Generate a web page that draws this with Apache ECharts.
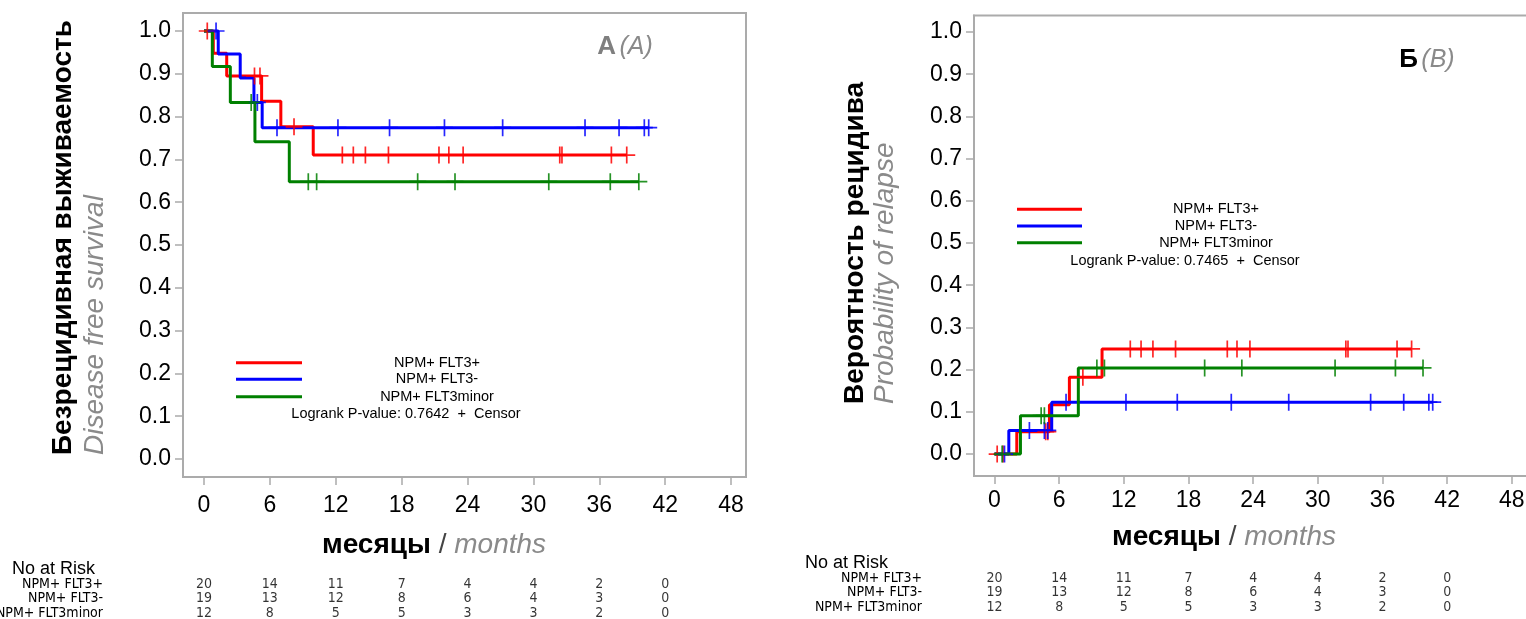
<!DOCTYPE html>
<html>
<head>
<meta charset="utf-8">
<script src="https://cdn.jsdelivr.net/npm/echarts@6/dist/echarts.min.js"></script>
<style>
html,body{margin:0;padding:0;background:#fff;}
#chart{width:1526px;height:619px;}
</style>
</head>
<body>
<div id="chart"></div>
<script>
// группы и цвета
var groups = ['NPM+ FLT3+', 'NPM+ FLT3-', 'NPM+ FLT3minor'];
var colors = ['#ff0000', '#0000ff', '#008000'];
var monthTicks = [0, 6, 12, 18, 24, 30, 36, 42, 48];
var probTicks = [0, 0.1, 0.2, 0.3, 0.4, 0.5, 0.6, 0.7, 0.8, 0.9, 1.0];

// No at Risk
var riskTimes = [0, 6, 12, 18, 24, 30, 36, 42];
var riskRed = [20, 14, 11, 7, 4, 4, 2, 0];
var riskBlue = [19, 13, 12, 8, 6, 4, 3, 0];
var riskGreen = [12, 8, 5, 5, 3, 3, 2, 0];

// A: безрецидивная выживаемость
var dfsRedTimes = [0, 0.85, 2.07, 5.25, 7.0, 9.95];
var dfsRedVals = [1, 0.948, 0.895, 0.836, 0.776, 0.710];
var dfsRedCens = [0.3, 4.6, 5.1, 8.2, 12.6, 13.6, 14.7, 16.8, 21.4, 22.3, 23.6, 32.4, 32.6, 37.1, 38.5];
var dfsBlueTimes = [0, 1.3, 3.3, 4.55, 5.3];
var dfsBlueVals = [1, 0.946, 0.89, 0.833, 0.774];
var dfsBlueCens = [1.1, 4.86, 6.65, 12.2, 16.9, 21.9, 27.2, 34.7, 37.8, 40.1, 40.5];
var dfsGreenTimes = [0, 0.76, 2.4, 4.64, 7.77];
var dfsGreenVals = [1, 0.917, 0.833, 0.741, 0.648];
var dfsGreenCens = [4.3, 9.5, 10.26, 19.46, 22.86, 31.4, 37.0, 39.6];

// Б: вероятность рецидива
var relRedTimes = [0, 2.07, 5.1, 6.95, 9.98];
var relRedVals = [0, 0.053, 0.117, 0.182, 0.249];
var relRedCens = [0.25, 0.8, 4.75, 4.95, 8.2, 12.6, 13.6, 14.7, 16.8, 21.6, 22.5, 23.7, 32.6, 32.8, 37.35, 38.7];
var relBlueTimes = [0, 1.33, 5.31];
var relBlueVals = [0, 0.056, 0.123];
var relBlueCens = [0.93, 3.24, 4.63, 4.94, 6.64, 12.2, 16.96, 21.97, 27.3, 34.9, 37.97, 40.3, 40.66];
var relGreenTimes = [0, 2.41, 7.78];
var relGreenVals = [0, 0.091, 0.204];
var relGreenCens = [0.71, 4.33, 4.63, 9.5, 10.2, 19.5, 22.95, 31.6, 37.2, 39.76];

var FONT = '"Liberation Sans", Arial, sans-serif';
var NARROW = '"DejaVu Sans Condensed", "Liberation Sans", sans-serif';
var GRAY = '#ababab';
var plus = 'path://M-1,-10L1,-10L1,-1L10,-1L10,1L1,1L1,10L-1,10L-1,1L-10,1L-10,-1L-1,-1Z';

function stepAt(times, vals, t){
    var v = vals[0];
    for(var i=0; i<times.length; i++){
        if(times[i] <= t) v = vals[i];
    }
    return v;
}
function curve(times, vals, cens){
    var d = [];
    for(var i=0; i<times.length; i++) d.push([times[i], vals[i]]);
    d.push([cens[cens.length-1], vals[vals.length-1]]);
    return d;
}
function censPts(times, vals, cens){
    return cens.map(function(t){ return [t, stepAt(times, vals, t)]; });
}

var panels = [
    {grid:{left:183, top:13, width:563, height:464}, xmin:-1.91, xmax:49.36, ymin:-0.042, ymax:1.042, labelMargin:17,
     curves:[[dfsRedTimes, dfsRedVals, dfsRedCens],[dfsBlueTimes, dfsBlueVals, dfsBlueCens],[dfsGreenTimes, dfsGreenVals, dfsGreenCens]],
     risk:{left:183, top:576.75, width:563, height:43.5, margin:80}},
    {grid:{left:974, top:15.5, width:554, height:460.5}, xmin:-1.9, xmax:49.5, ymin:-0.052, ymax:1.039, labelMargin:13,
     curves:[[relRedTimes, relRedVals, relRedCens],[relBlueTimes, relBlueVals, relBlueCens],[relGreenTimes, relGreenVals, relGreenCens]],
     risk:{left:974, top:570.75, width:554, height:43.5, margin:52}}
];
var riskRows = [riskRed, riskBlue, riskGreen];

var option = {
    animation:false,
    backgroundColor:'#fff',
    grid:[], xAxis:[], yAxis:[], series:[], graphic:[]
};

panels.forEach(function(p, pi){
    option.grid.push(Object.assign({show:true, borderColor:GRAY, borderWidth:2, backgroundColor:'#fff',
        containLabel:false, outerBoundsMode:'none'}, p.grid));
    option.xAxis.push({
        type:'value', gridIndex:pi*2, min:p.xmin, max:p.xmax,
        axisLine:{show:true, onZero:false, lineStyle:{color:GRAY, width:2}},
        axisTick:{show:true, inside:false, length:8, customValues:monthTicks, lineStyle:{color:GRAY, width:1.5}},
        axisLabel:{customValues:monthTicks, color:'#000', fontSize:23, fontFamily:FONT, margin:p.labelMargin},
        splitLine:{show:false}
    });
    option.yAxis.push({
        type:'value', gridIndex:pi*2, min:p.ymin, max:p.ymax,
        axisLine:{show:true, onZero:false, lineStyle:{color:GRAY, width:2}},
        axisTick:{show:true, inside:false, length:8, customValues:probTicks, lineStyle:{color:GRAY, width:1.5}},
        axisLabel:{customValues:probTicks, color:'#000', fontSize:23, fontFamily:FONT, margin:12,
            formatter:function(v){ return v.toFixed(1); }},
        splitLine:{show:false}
    });
    // таблица риска
    option.grid.push({show:false, outerBoundsMode:'none', containLabel:false,
        left:p.risk.left, top:p.risk.top, width:p.risk.width, height:p.risk.height});
    option.xAxis.push({type:'value', gridIndex:pi*2+1, min:p.xmin, max:p.xmax, show:false});
    option.yAxis.push({
        type:'category', gridIndex:pi*2+1, data:groups, inverse:true,
        axisLine:{show:false}, axisTick:{show:false}, splitLine:{show:false},
        axisLabel:{interval:0, color:'#000', fontSize:14, fontFamily:NARROW, margin:p.risk.margin}
    });

    p.curves.forEach(function(c, ci){
        option.series.push({
            type:'line', xAxisIndex:pi*2, yAxisIndex:pi*2, step:'end',
            data:curve(c[0], c[1], c[2]), showSymbol:false, symbol:'none',
            lineStyle:{color:colors[ci], width:3}, z:2+ci, silent:true
        });
    });
    p.curves.forEach(function(c, ci){
        option.series.push({
            type:'scatter', xAxisIndex:pi*2, yAxisIndex:pi*2,
            data:censPts(c[0], c[1], c[2]), symbol:plus, symbolSize:17,
            itemStyle:{color:colors[ci], opacity:0.85}, z:6, silent:true
        });
    });
    var rd = [];
    riskRows.forEach(function(row, ri){
        row.forEach(function(n, k){ rd.push([riskTimes[k], groups[ri], n]); });
    });
    option.series.push({
        type:'scatter', xAxisIndex:pi*2+1, yAxisIndex:pi*2+1, data:rd,
        symbolSize:1, itemStyle:{color:'rgba(0,0,0,0)'},
        label:{show:true, position:'inside', color:'#000', fontSize:14, fontFamily:NARROW,
            formatter:function(o){ return String(o.value[2]); }},
        silent:true
    });
});

// легенды
var legends = [
    {lx:236, lw:66, ly:[362.7, 379.3, 396.7], tx:437, logY:414, logX:406, p:'0.7642'},
    {lx:1017, lw:65, ly:[209.3, 226, 242.7], tx:1216, logY:260.7, logX:1185, p:'0.7465'}
];
legends.forEach(function(L){
    groups.forEach(function(name, i){
        option.graphic.push({type:'line', shape:{x1:L.lx, y1:L.ly[i], x2:L.lx+L.lw, y2:L.ly[i]}, style:{stroke:colors[i], lineWidth:3}, z:20});
        option.graphic.push({type:'text', x:L.tx, y:L.ly[i], style:{text:name, fill:'#000', font:'14.5px '+FONT, textAlign:'center', textVerticalAlign:'middle'}, z:20});
    });
    option.graphic.push({type:'text', x:L.logX, y:L.logY, style:{text:'Logrank P-value: '+L.p+'  +  Censor', fill:'#000', font:'14.5px '+FONT, textAlign:'center', textVerticalAlign:'middle'}, z:20});
});

// подписи осей и панелей
function rich(x, y, parts, align, rot){
    return {type:'text', x:x, y:y, rotation:rot||0, z:20, style:{
        text:parts, textAlign:align||'center', textVerticalAlign:'middle',
        rich:{
            b:{font:'bold 28px '+FONT, fill:'#000'},
            bg:{font:'bold 26px '+FONT, fill:'#7f7f7f'},
            bb:{font:'bold 26px '+FONT, fill:'#000'},
            i:{font:'italic 28px '+FONT, fill:'#8a8a8a'},
            ii:{font:'italic 25px '+FONT, fill:'#8a8a8a'},
            s:{font:'28px '+FONT, fill:'#444'}
        }}};
}
option.graphic.push(rich(63, 455, '{b|Безрецидивная выживаемость}', 'left', Math.PI/2));
option.graphic.push(rich(95, 455, '{i|Disease free survival}', 'left', Math.PI/2));
option.graphic.push(rich(855, 404, '{b|Вероятность рецидива}', 'left', Math.PI/2));
option.graphic.push(rich(885, 404, '{i|Probability of relapse}', 'left', Math.PI/2));
option.graphic.push(rich(434, 545, '{b|месяцы}{s| / }{i|months}'));
option.graphic.push(rich(1224, 537, '{b|месяцы}{s| / }{i|months}'));
option.graphic.push(rich(625, 47, '{bg|А} {ii|(A)}'));
option.graphic.push(rich(1427, 60, '{bb|Б} {ii|(B)}'));
option.graphic.push({type:'text', x:12, y:569, z:20, style:{text:'No at Risk', fill:'#000', font:'18px '+FONT, textVerticalAlign:'middle'}});
option.graphic.push({type:'text', x:805, y:563, z:20, style:{text:'No at Risk', fill:'#000', font:'18px '+FONT, textVerticalAlign:'middle'}});

var chart = echarts.init(document.getElementById('chart'));
chart.setOption(option);
</script>
</body>
</html>
